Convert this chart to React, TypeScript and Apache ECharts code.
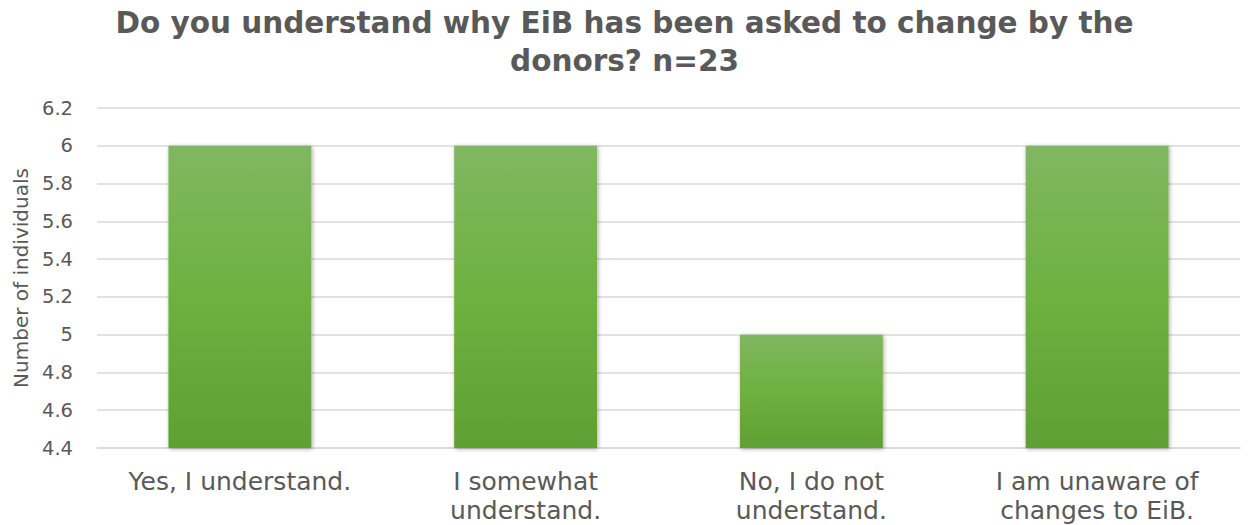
import React, { useEffect, useRef } from "react";
import * as echarts from "echarts";

const categories = [
  "Yes, I understand.",
  "I somewhat\nunderstand.",
  "No, I do not\nunderstand.",
  "I am unaware of\nchanges to EiB.",
];
const values = [6, 6, 5, 6];
const titleText = "Do you understand why EiB has been asked to change by the\ndonors? n=23";
const yAxisTitle = "Number of individuals";

export default function App() {
  const ref = useRef<HTMLDivElement>(null);
  useEffect(() => {
    const chart = echarts.init(ref.current!, null, { renderer: "svg" });
    chart.setOption({
      animation: false,
      textStyle: { fontFamily: "DejaVu Sans" },
      title: {
        text: titleText,
        left: "center",
        top: -1,
        textStyle: {
          fontFamily: "DejaVu Sans",
          fontWeight: "bold",
          fontSize: 29.5,
          color: "#595959",
          lineHeight: 38,
        },
      },
      grid: { left: 97, right: 9, top: 108, bottom: 77, containLabel: false },
      xAxis: {
        type: "category",
        data: categories,
        axisLine: { show: true, lineStyle: { color: "#d9d9d9", width: 1.5 } },
        axisTick: { show: false },
        axisLabel: {
          color: "#595959",
          fontSize: 25,
          lineHeight: 29,
          margin: 19,
          interval: 0,
        },
      },
      yAxis: {
        type: "value",
        min: 4.4,
        max: 6.2,
        interval: 0.2,
        name: yAxisTitle,
        nameLocation: "middle",
        nameGap: 66,
        nameTextStyle: { color: "#595959", fontSize: 20 },
        axisLine: { show: false },
        axisTick: { show: false },
        axisLabel: {
          color: "#595959",
          fontSize: 19.5,
          margin: 24,
          formatter: (v: number) => String(Math.round(v * 10) / 10),
        },
        splitLine: { lineStyle: { color: "#d9d9d9", width: 1.5 } },
      },
      series: [
        {
          type: "bar",
          data: values,
          barWidth: "50%",
          itemStyle: {
            color: new echarts.graphic.LinearGradient(0, 0, 0, 1, [
              { offset: 0, color: "#80b761" },
              { offset: 0.5, color: "#6db13f" },
              { offset: 1, color: "#5fa033" },
            ]),
            shadowColor: "rgba(0,0,0,0.35)",
            shadowBlur: 4,
            shadowOffsetX: 1,
            shadowOffsetY: 1,
          },
        },
      ],
    });
    return () => chart.dispose();
  }, []);
  return (
    <div
      ref={ref}
      style={{ position: "fixed", left: 0, top: 0, width: 1249, height: 525, background: "#fff" }}
    />
  );
}
